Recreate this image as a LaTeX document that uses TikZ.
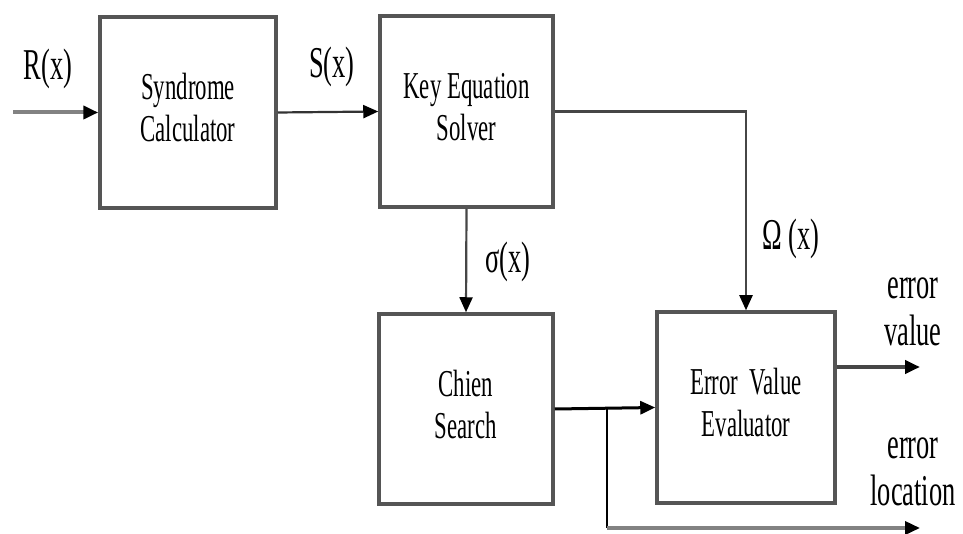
\documentclass[tikz,border=0pt]{standalone}
\usepackage{fontspec}
\usepackage{graphicx}
\setmainfont{Liberation Serif}
\usetikzlibrary{arrows.meta}
\definecolor{boxc}{RGB}{85,85,85}
\definecolor{linec}{RGB}{70,70,70}
\definecolor{lightc}{RGB}{130,130,130}
\newcommand{\sqz}[1]{\scalebox{0.6}[1]{\begin{tabular}{@{}c@{}}#1\end{tabular}}}
\tikzset{
  blockbox/.style={draw=boxc, line width=3.5pt, minimum width=#1, inner sep=0pt, font=\fontsize{38}{42}\selectfont},
  lbl/.style={inner sep=0pt, font=\fontsize{44}{47}\selectfont},
  tip/.style={-{Triangle[length=15pt,width=13pt,color=black]}},
  conn/.style={tip, line width=2.2pt, draw=linec},
}
\begin{document}
\begin{tikzpicture}[x=1pt,y=-1pt]
\useasboundingbox (0,0) rectangle (963,534);
\node[blockbox=176pt, minimum height=191pt] (syn) at (188,112.5) {\sqz{Syndrome\\Calculator}};
\node[blockbox=173pt, minimum height=191pt] (key) at (466.5,111.5) {\sqz{Key Equation\\Solver}};
\node[blockbox=174pt, minimum height=190pt] (chien) at (466,409) {\sqz{Chien\\Search}};
\node[blockbox=178pt, minimum height=191pt] (eval) at (746,407.5) {\sqz{Error\ \ Value\\Evaluator}};
\coordinate (in) at (13,112.5);
\coordinate (br) at (607,409);
\coordinate (val) at (920,367);
\coordinate (loc) at (920,528);
\draw[tip, line width=4pt, draw=lightc] (in) -- (syn.west);
\draw[conn, draw=black!80] (syn.east) -- (key.west);
\draw[conn] (key.east) -| (eval.north);
\draw[conn] (key.south) -- (chien.north);
\draw[tip, line width=3pt, draw=black] (chien.east) -- (eval.west);
\draw[line width=2.5pt, draw=black] (br) -- (br |- loc);
\draw[tip, line width=3.5pt, draw=lightc] (br |- loc) -- (loc);
\draw[tip, line width=4pt, draw=linec] (eval.east |- val) -- (val);
\node[lbl] (lr) at (48,70) {\sqz{R(x)}};
\node[lbl] (ls) at (332,68) {\sqz{S(x)}};
\node[lbl] (lsig) at (508,263) {\sqz{σ(x)}};
\node[lbl] (lom) at (791,240) {\sqz{Ω (x)}};
\node[lbl] (lval) at (913,313) {\sqz{error\\value}};
\node[lbl] (lloc) at (913,473) {\sqz{error\\location}};
\end{tikzpicture}
\end{document}
